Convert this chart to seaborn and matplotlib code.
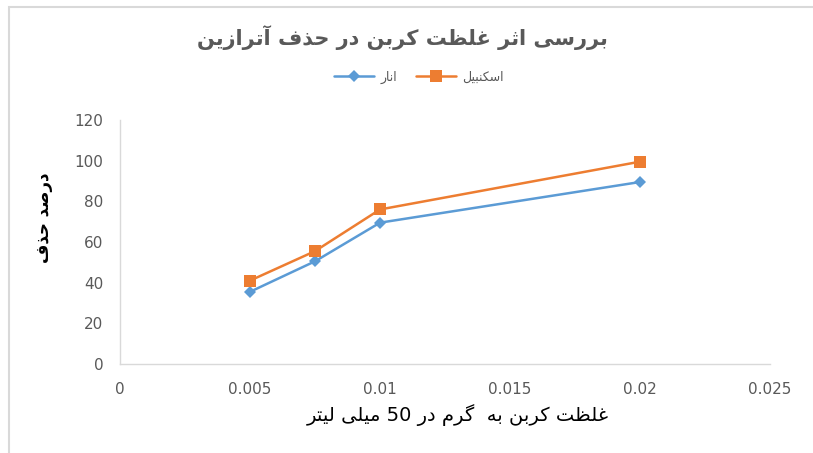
import re

import numpy as np
import pandas as pd
import matplotlib
matplotlib.use("Agg")
import matplotlib.pyplot as plt
import seaborn as sns
from matplotlib.patches import Rectangle


# data
carbon_dose = [0.005, 0.0075, 0.01, 0.02]
removal_anar = [35.5, 50.5, 69.5, 89.5]
removal_eskanbil = [41.0, 55.5, 76.0, 99.5]
series_names = ["انار", "اسکنبیل"]

title_text = "بررسی اثر غلظت کربن در حذف آترازین"
xlabel_text = "غلظت کربن به  گرم در 50 میلی لیتر"
ylabel_text = "درصد حذف"

x_ticks = [0, 0.005, 0.01, 0.015, 0.02, 0.025]
x_tick_labels = ["0", "0.005", "0.01", "0.015", "0.02", "0.025"]
y_ticks = [0, 20, 40, 60, 80, 100, 120]

BLUE = "#5B9BD5"
ORANGE = "#ED7D31"
GREY_TEXT = "#595959"
GREY_LINE = "#D9D9D9"

# isolated, final, initial, medial
FORMS = {
    "ا": (0xFE8D, 0xFE8E, None, None),
    "آ": (0xFE81, 0xFE82, None, None),
    "ب": (0xFE8F, 0xFE90, 0xFE91, 0xFE92),
    "ت": (0xFE95, 0xFE96, 0xFE97, 0xFE98),
    "ث": (0xFE99, 0xFE9A, 0xFE9B, 0xFE9C),
    "ح": (0xFEA1, 0xFEA2, 0xFEA3, 0xFEA4),
    "د": (0xFEA9, 0xFEAA, None, None),
    "ذ": (0xFEAB, 0xFEAC, None, None),
    "ر": (0xFEAD, 0xFEAE, None, None),
    "ز": (0xFEAF, 0xFEB0, None, None),
    "س": (0xFEB1, 0xFEB2, 0xFEB3, 0xFEB4),
    "ص": (0xFEB9, 0xFEBA, 0xFEBB, 0xFEBC),
    "ظ": (0xFEC5, 0xFEC6, 0xFEC7, 0xFEC8),
    "غ": (0xFECD, 0xFECE, 0xFECF, 0xFED0),
    "ف": (0xFED1, 0xFED2, 0xFED3, 0xFED4),
    "ل": (0xFEDD, 0xFEDE, 0xFEDF, 0xFEE0),
    "م": (0xFEE1, 0xFEE2, 0xFEE3, 0xFEE4),
    "ن": (0xFEE5, 0xFEE6, 0xFEE7, 0xFEE8),
    "ه": (0xFEE9, 0xFEEA, 0xFEEB, 0xFEEC),
    "و": (0xFEED, 0xFEEE, None, None),
    "ک": (0xFB8E, 0xFB8F, 0xFB90, 0xFB91),
    "گ": (0xFB92, 0xFB93, 0xFB94, 0xFB95),
    "ی": (0xFBFC, 0xFBFD, 0xFBFE, 0xFBFF),
}


def rtl(text: str) -> str:
    # crude persian shaping + visual reorder (matplotlib has no bidi)
    out = []
    for i, ch in enumerate(text):
        if ch not in FORMS:
            out.append(ch)
            continue
        prev = text[i - 1] if i > 0 else ""
        nxt = text[i + 1] if i + 1 < len(text) else ""
        join_prev = prev in FORMS and FORMS[prev][2] is not None
        join_next = nxt in FORMS and FORMS[ch][2] is not None
        iso, fin, ini, med = FORMS[ch]
        if join_prev and join_next:
            code = med
        elif join_prev:
            code = fin
        elif join_next:
            code = ini
        else:
            code = iso
        out.append(chr(code))
    visual = "".join(out)[::-1]
    return re.sub(r"[0-9.]+", lambda m: m.group(0)[::-1], visual)


sns.set_theme(style="white")
plt.rcParams["font.family"] = ["DejaVu Sans"]

df = pd.DataFrame(
    {
        "dose": carbon_dose * 2,
        "removal": removal_anar + removal_eskanbil,
        "series": [rtl(series_names[0])] * len(carbon_dose) + [rtl(series_names[1])] * len(carbon_dose),
    }
)

fig = plt.figure(figsize=(8.13, 4.53), dpi=100)
ax = fig.add_axes([0.1476, 0.1965, 0.7995, 0.5386])

styles = [(BLUE, "D", 6), (ORANGE, "s", 8)]
for name, (color, marker, ms) in zip(series_names, styles):
    sub = df[df["series"] == rtl(name)]
    sns.lineplot(data=sub, x="dose", y="removal", ax=ax, color=color, lw=1.8,
                 marker=marker, markersize=ms, markeredgewidth=0, label=rtl(name))

ax.set_xlim(0, 0.025)
ax.set_ylim(0, 120)
ax.set_xticks(x_ticks)
ax.set_xticklabels(x_tick_labels)
ax.set_yticks(y_ticks)
ax.tick_params(axis="both", length=0, labelsize=11, colors=GREY_TEXT)
ax.tick_params(axis="y", pad=12)
ax.tick_params(axis="x", pad=13)
for s in ["top", "right"]:
    ax.spines[s].set_visible(False)
for s in ["left", "bottom"]:
    ax.spines[s].set_color(GREY_LINE)
    ax.spines[s].set_linewidth(1.0)
ax.grid(False)

ax.set_xlabel(rtl(xlabel_text), fontsize=14, color="black")
ax.xaxis.set_label_coords(0.52, -0.165)
ax.set_ylabel(rtl(ylabel_text), fontsize=12, color="black", fontweight="bold")
ax.yaxis.set_label_coords(-0.103, 0.60)

fig.text(0.495, 0.918, rtl(title_text), ha="center", va="center", fontsize=15,
         color=GREY_TEXT, fontweight="bold")

ax.legend(loc="center", bbox_to_anchor=(0.515, 0.83), bbox_transform=fig.transFigure,
          ncol=2, frameon=False, fontsize=9, handlelength=3.2, columnspacing=1.5,
          labelcolor=GREY_TEXT, handletextpad=0.5)

fig.patches.append(Rectangle((9 / 813, -0.1), 1.2, (453 - 7) / 453 + 0.1, transform=fig.transFigure,
                             fill=False, edgecolor=GREY_LINE, lw=1.5))

fig.savefig("out.png", dpi=100)
